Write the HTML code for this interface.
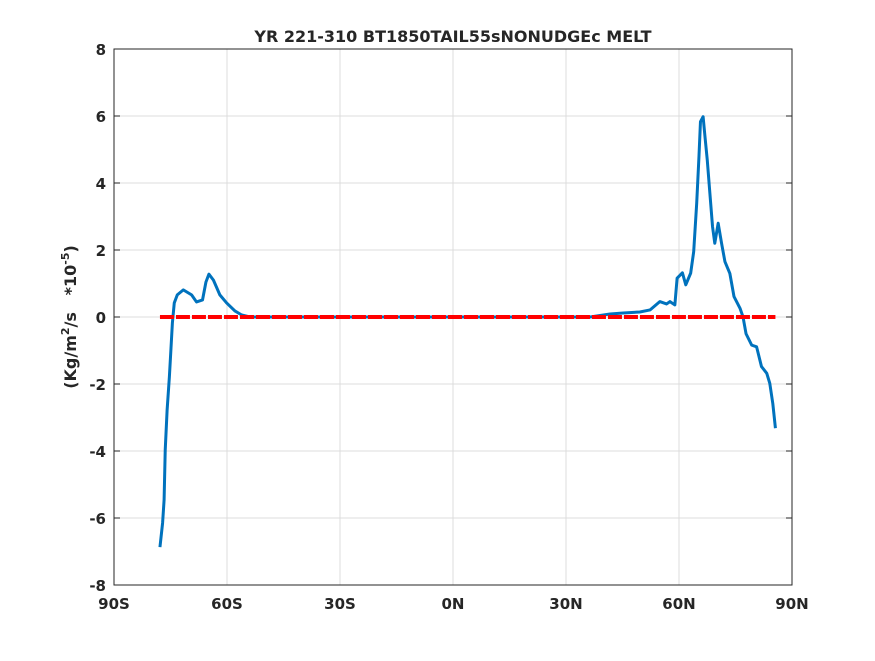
<!DOCTYPE html>
<html><head><meta charset="utf-8"><style>
body{margin:0;background:#fff;}
svg text{font-family:"DejaVu Sans","Liberation Sans",sans-serif;font-weight:bold;fill:#262626;}
</style></head><body>
<svg id="chart" width="875" height="656" xmlns="http://www.w3.org/2000/svg">
<rect width="875" height="656" fill="#fff"/>
<g id="grid"></g>
<g id="axes"></g>
<g id="series"></g>
<text x="453" y="42" text-anchor="middle" font-size="16">YR 221-310 BT1850TAIL55sNONUDGEc MELT</text>
<text transform="translate(76,317) rotate(-90)" text-anchor="middle" font-size="16">(Kg/m<tspan font-size="11" dy="-7">2</tspan><tspan dy="7">/s&#160;&#160;&#160;*10</tspan><tspan font-size="11" dy="-7">-5</tspan><tspan dy="7">)</tspan></text>
</svg>
<script>
const xTickLabels=["90S","60S","30S","0N","30N","60N","90N"];
const xTickValues=[-90,-60,-30,0,30,60,90];
const yTickValues=[-8,-6,-4,-2,0,2,4,6,8];
const lats=[-77.8,-77.1,-76.7,-76.4,-75.9,-75.3,-74.9,-74.5,-74.0,-73.2,-71.6,-69.4,-68.1,-66.5,-65.6,-64.8,-63.6,-61.9,-60.1,-57.9,-56.1,-53.9,-30,0,20,36.4,41.7,45.2,49.6,52.3,54.9,56.7,57.6,58.9,59.5,60.9,61.8,63.1,63.9,64.7,65.3,65.7,66.4,66.9,67.5,68.2,68.9,69.5,70.4,71.3,72.2,73.5,74.6,76.2,77.0,77.8,79.3,80.6,81.9,83.3,84.1,84.9,85.6];
const melt=[-6.87,-6.15,-5.46,-3.97,-2.78,-1.79,-0.99,-0.18,0.42,0.66,0.81,0.66,0.45,0.51,1.04,1.28,1.1,0.66,0.42,0.18,0.06,0,0,0,0,0,0.09,0.12,0.15,0.21,0.46,0.39,0.46,0.36,1.16,1.32,0.96,1.31,1.95,3.40,4.79,5.83,5.98,5.38,4.69,3.69,2.70,2.20,2.80,2.20,1.65,1.30,0.61,0.26,0,-0.50,-0.84,-0.89,-1.48,-1.68,-1.98,-2.58,-3.32];
const zeroRange=[-77.8,85.6];
const ns="http://www.w3.org/2000/svg";
const L=114,R=792,T=49,B=585;
const xs=v=>L+(v+90)/180*(R-L);
const ys=v=>B-(v+8)/16*(B-T);
function mk(tag,attrs,parent){const e=document.createElementNS(ns,tag);for(const k in attrs)e.setAttribute(k,attrs[k]);parent.appendChild(e);return e;}
const grid=document.getElementById('grid'),axes=document.getElementById('axes'),series=document.getElementById('series');
xTickValues.forEach((v,i)=>{
 const g=mk('line',{x1:xs(v),x2:xs(v),y1:T,y2:B,stroke:'#dcdcdc','stroke-width':1},grid);
 
 
 const t=mk('text',{x:xs(v),y:B+24,'text-anchor':'middle','font-size':15},axes);
 t.textContent=xTickLabels[i];
 
 
});
yTickValues.forEach(v=>{
 const g=mk('line',{x1:L,x2:R,y1:ys(v),y2:ys(v),stroke:'#dcdcdc','stroke-width':1},grid);
 
 
 mk('line',{x1:L,x2:L+6,y1:ys(v),y2:ys(v),stroke:'#262626'},axes);
 mk('line',{x1:R,x2:R-6,y1:ys(v),y2:ys(v),stroke:'#262626'},axes);
 const t=mk('text',{x:L-8,y:ys(v)+6,'text-anchor':'end','font-size':15},axes);
 t.textContent=String(v);
 
 
});
const box=mk('rect',{x:L,y:T,width:R-L,height:B-T,fill:'none',stroke:'#262626','stroke-width':1},axes);


const p=mk('polyline',{points:lats.map((la,i)=>xs(la)+','+ys(melt[i])).join(' '),fill:'none',stroke:'#0072bd','stroke-width':3,'stroke-linejoin':'round'},series);


const z=mk('line',{x1:xs(zeroRange[0]),x2:xs(zeroRange[1]),y1:ys(0),y2:ys(0),stroke:'#ff0000','stroke-width':4,'stroke-dasharray':'14 2'},series);


</script>
</body></html>
